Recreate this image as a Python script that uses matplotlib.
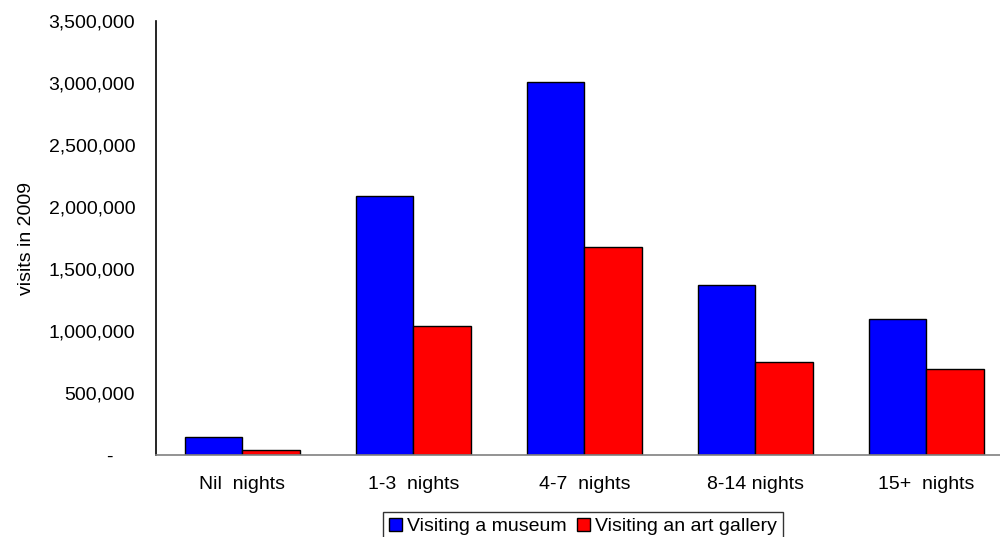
import matplotlib.pyplot as plt
import matplotlib.ticker as mticker
import numpy as np

# visits in 2009 by length of stay
stays = ["Nil  nights", "1-3  nights", "4-7  nights", "8-14 nights", "15+  nights"]
museum = [145000, 2090000, 3005000, 1370000, 1097000]
gallery = [40000, 1040000, 1680000, 752000, 690000]
yticks = [0, 500000, 1000000, 1500000, 2000000, 2500000, 3000000, 3500000]

plt.rcParams['font.family'] = ['Liberation Sans', 'DejaVu Sans']


def fmt_visits(v, pos):
	if v == 0:
		return "-    "
	return f"{v:,.0f}"


def main():
	fig = plt.figure(figsize=(10, 5.37), dpi=100)
	ax = fig.add_axes([0.156, 0.1527, 0.844, 0.808])

	x = np.arange(len(stays))
	w = 0.335
	ax.bar(x - w / 2, museum, w, color="#0000ff", edgecolor="black", linewidth=1,
		label="Visiting a museum")
	ax.bar(x + w / 2, gallery, w, color="#ff0000", edgecolor="black", linewidth=1,
		label="Visiting an art gallery")

	ax.set_xlim(-0.505, 4.43)
	ax.set_ylim(0, 3500000)
	ax.set_yticks(yticks)
	ax.yaxis.set_major_formatter(mticker.FuncFormatter(fmt_visits))
	ax.set_xticks(x)
	ax.set_xticklabels(stays)
	ax.tick_params(axis="both", length=0, labelsize=14, colors="black")
	ax.tick_params(axis="y", pad=15)
	ax.tick_params(axis="x", pad=15)

	for s in ["top", "right"]:
		ax.spines[s].set_visible(False)
	ax.spines["left"].set_color("black")
	ax.spines["left"].set_linewidth(1.2)
	ax.spines["bottom"].set_color("#808080")
	ax.spines["bottom"].set_linewidth(1.2)

	ax.set_ylabel("visits in 2009", fontsize=14)
	ax.yaxis.set_label_coords(-0.143, 0.5)

	leg = fig.legend(loc="upper center", bbox_to_anchor=(0.583, 0.047), ncol=2,
		fontsize=14, frameon=True, fancybox=False, shadow=False,
		handlelength=0.67, handleheight=0.67, handletextpad=0.25,
		columnspacing=0.55, borderpad=0.3, borderaxespad=0)
	leg.get_frame().set_edgecolor("black")
	leg.get_frame().set_linewidth(1)

	fig.savefig("out.png", dpi=100)


if __name__ == '__main__':
	main()
